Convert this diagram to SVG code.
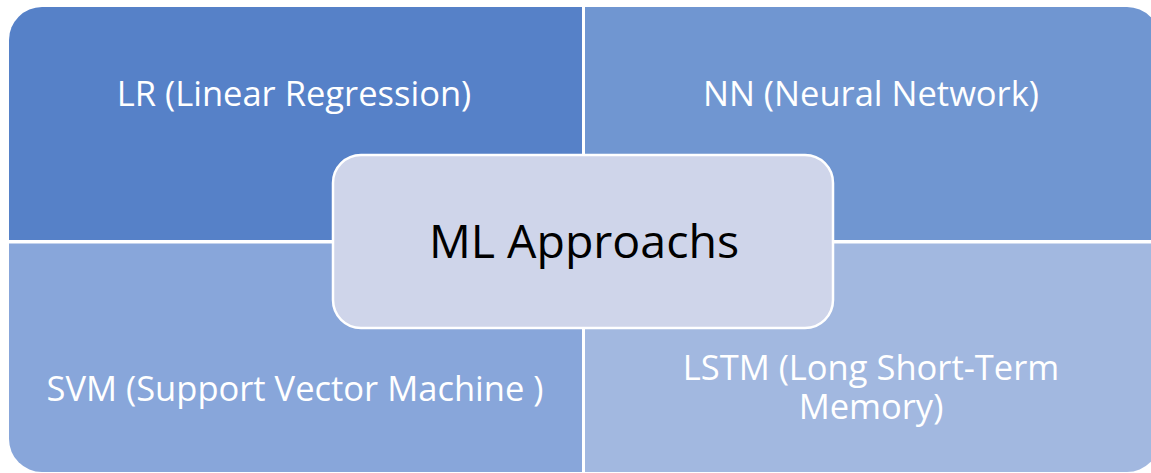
<svg xmlns="http://www.w3.org/2000/svg" width="1151" height="473" viewBox="0 0 1151 473">
<style>
.q{stroke:none}
.t{font-family:"Open Sans","Liberation Sans",sans-serif;font-size:34.5px;fill:#ffffff;text-anchor:middle}
.c{font-family:"Open Sans","Liberation Sans",sans-serif;font-size:46.5px;fill:#000000;text-anchor:middle}
</style>
<rect width="1151" height="473" fill="#ffffff"/>
<g id="node-lr">
<path class="q" fill="#5681C8" d="M9,40 A33,33 0 0 1 42,7 H582 V240 H9 Z"/>
<text class="t" x="294" y="106">LR (Linear Regression)</text>
</g>
<g id="node-nn">
<path class="q" fill="#7096D1" d="M585,7 H1127 A33,33 0 0 1 1160,40 V240 H585 Z"/>
<text class="t" x="871" y="106">NN (Neural Network)</text>
</g>
<g id="node-svm">
<path class="q" fill="#88A6DA" d="M9,243.5 H582 V472 H42 A33,33 0 0 1 9,439 Z"/>
<text class="t" x="295" y="401">SVM (Support Vector Machine )</text>
</g>
<g id="node-lstm">
<path class="q" fill="#A2B8E0" d="M585,243.5 H1160 V439 A33,33 0 0 1 1127,472 H585 Z"/>
<text class="t" x="871" y="380">LSTM (Long Short-Term</text>
<text class="t" x="871" y="419">Memory)</text>
</g>
<g id="node-center">
<rect x="333" y="155" width="500" height="173" rx="28" ry="28" fill="#CFD5EA" stroke="#ffffff" stroke-width="2.5"/>
<text class="c" x="584" y="258">ML Approachs</text>
</g>
<g id="connectors"></g>
</svg>
